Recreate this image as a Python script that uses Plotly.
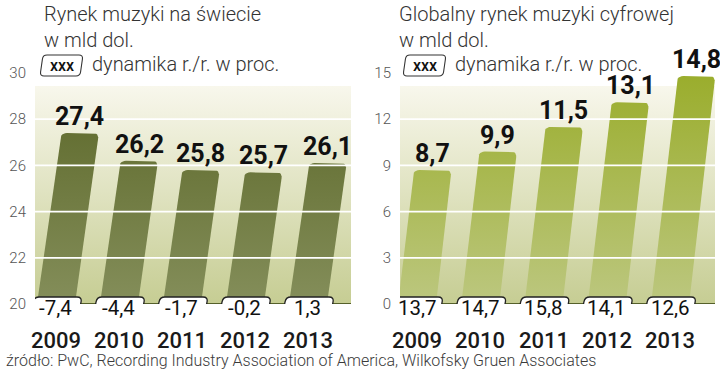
import plotly.graph_objects as go

# ---------------- data ----------------
years = ["2009", "2010", "2011", "2012", "2013"]
world_values = [27.4, 26.2, 25.8, 25.7, 26.1]          # mld dol.
world_growth = [-7.4, -4.4, -1.7, -0.2, 1.3]            # r./r. w proc.
digital_values = [8.7, 9.9, 11.5, 13.1, 14.8]           # mld dol.
digital_growth = [13.7, 14.7, 15.8, 14.1, 12.6]         # r./r. w proc.
world_ticks = [20, 22, 24, 26, 28, 30]
digital_ticks = [0, 3, 6, 9, 12, 15]

title_left = ["Rynek muzyki na świecie", "w mld dol."]
title_right = ["Globalny rynek muzyki cyfrowej", "w mld dol."]
legend_text = "dynamika r./r. w proc."
source_text = "źródło: PwC, Recording Industry Association of America, Wilkofsky Gruen Associates"

# ---------------- style / geometry ----------------
W, H = 720, 375
PY_TOP, PY_BOT = 73, 304
BG_TOP_PX = 86
BAR_W = 38
BAR_R = 6
LIGHT = "Roboto"
NARROW = "Liberation Sans Narrow, Arial Narrow, Roboto"
BG_COLS = ["#c6cd93", "#f8f7ec"]

panels = [
    dict(xa="x", ya="y", xpx=(35, 351), xr=(-0.333, 4.683), yr=(20, 30), slope=0.14,
         vals=world_values, growth=world_growth, ticks=world_ticks,
         bar_cols=["#848e5a", "#5a6627"], title=title_left, tx=42, bx=40),
    dict(xa="x2", ya="y2", xpx=(400, 715), xr=(-0.27, 4.71), yr=(0, 15), slope=0.115,
         vals=digital_values, growth=digital_growth, ticks=digital_ticks,
         bar_cols=["#bcc77f", "#9aad2c"], title=title_right, tx=397, bx=403),
]


def fmt(v):
    return f"{v:.1f}".replace(".", ",")


def rounded_path(pts, r, conv):
    """pts: polygon in px, corners rounded by r; conv maps px to output coords."""
    n = len(pts)
    segs = []
    for k in range(n):
        p = pts[k]
        a = pts[k - 1]
        b = pts[(k + 1) % n]

        def toward(q, d, p=p):
            dx, dy = q[0] - p[0], q[1] - p[1]
            L = (dx * dx + dy * dy) ** 0.5
            return (p[0] + dx / L * d, p[1] + dy / L * d)
        segs.append((toward(a, r), p, toward(b, r)))

    def s(q):
        x, y = conv(*q)
        return f"{x:.5f},{y:.5f}"
    d = "M" + s(segs[0][0])
    for (pi, c, po) in segs:
        d += " L" + s(pi) + " Q" + s(c) + " " + s(po)
    return d + " Z"


def qpts(pa, c, pb, n=6):
    out = []
    for k in range(n + 1):
        t = k / n
        out.append(((1 - t) ** 2 * pa[0] + 2 * (1 - t) * t * c[0] + t * t * pb[0],
                    (1 - t) ** 2 * pa[1] + 2 * (1 - t) * t * c[1] + t * t * pb[1]))
    return out


fig = go.Figure()
shapes = []
annotations = []
layout_axes = {}

for pi_, P in enumerate(panels):
    x0px, x1px = P["xpx"]
    r0, r1 = P["xr"]
    y0, y1 = P["yr"]
    ppx = (x1px - x0px) / (r1 - r0)
    ppy = (PY_BOT - PY_TOP) / (y1 - y0)
    base = y0
    bg_top = y1 - (BG_TOP_PX - PY_TOP) / ppy
    slope = P["slope"]

    # background gradient panel
    fig.add_trace(go.Scatter(
        x=[r0, r1, r1, r0], y=[base, base, bg_top, bg_top], fill="toself",
        mode="lines", line=dict(width=0), hoverinfo="skip", showlegend=False,
        fillgradient=dict(type="vertical", colorscale=[[0, BG_COLS[0]], [1, BG_COLS[1]]],
                          start=base, stop=bg_top),
        xaxis=P["xa"], yaxis=P["ya"]))

    # slanted bars with rounded tops
    for i, v in enumerate(P["vals"]):
        hpx = (v - base) * ppy
        sh = slope * hpx / ppx
        c0 = i
        hw = BAR_W / 2 / ppx
        rx, ry = BAR_R / ppx, BAR_R / ppy
        sx = slope * BAR_R / ppx
        bl = (c0 - hw, base)
        tl = (c0 - hw + sh, v)
        tr = (c0 + hw + sh, v)
        br = (c0 + hw, base)
        pts = [bl]
        pts += qpts((tl[0] - sx, v - ry), tl, (tl[0] + rx, v))
        pts += qpts((tr[0] - rx, v), tr, (tr[0] - sx, v - ry))
        pts += [br, bl]
        fig.add_trace(go.Scatter(
            x=[p[0] for p in pts], y=[p[1] for p in pts], fill="toself", mode="lines",
            line=dict(width=0), hoverinfo="skip", showlegend=False,
            fillgradient=dict(type="vertical",
                              colorscale=[[0, P["bar_cols"][0]], [1, P["bar_cols"][1]]],
                              start=base, stop=y1),
            xaxis=P["xa"], yaxis=P["ya"]))
        # value label
        annotations.append(dict(x=c0 + sh, y=v, xref=P["xa"], yref=P["ya"], text=fmt(v),
                                showarrow=False, xanchor="center", yanchor="bottom", yshift=0,
                                font=dict(family=NARROW, size=25, color="#111111", weight="bold")))

    # white gridlines (above bars)
    for t in P["ticks"]:
        if base < t < bg_top:
            shapes.append(dict(type="line", xref=P["xa"] + " domain", yref=P["ya"],
                               x0=0, x1=1, y0=t, y1=t, layer="above",
                               line=dict(color="white", width=1.8)))
    # baseline
    shapes.append(dict(type="line", xref=P["xa"] + " domain", yref=P["ya"],
                       x0=0, x1=1, y0=base, y1=base, layer="above",
                       line=dict(color="#55602a", width=2)))

    # growth boxes + year labels
    box_pts = [(-26, -14), (-22, 7), (26, 7), (22, -14)]
    box_path = rounded_path(box_pts, 5, lambda x, y: (x, y))
    for i, g in enumerate(P["growth"]):
        shapes.append(dict(type="path", xref=P["xa"], yref=P["ya"],
                           xsizemode="pixel", ysizemode="pixel", xanchor=i, yanchor=base,
                           path=box_path, fillcolor="white", layer="above",
                           line=dict(color="#222222", width=1.3)))
        annotations.append(dict(x=i, y=base, xref=P["xa"], yref=P["ya"], text=fmt(g),
                                showarrow=False, xanchor="center", yanchor="middle", yshift=-3.5,
                                font=dict(family=LIGHT, size=20.5, color="#111111")))
        annotations.append(dict(x=i, y=base, xref=P["xa"], yref=P["ya"], text=years[i],
                                showarrow=False, xanchor="center", yanchor="middle", yshift=-36,
                                font=dict(family=LIGHT, size=22, color="#1a1a1a", weight=500)))

    # titles
    for li, line in enumerate(P["title"]):
        annotations.append(dict(x=P["tx"] / W, y=1 - [14, 40][li] / H, xref="paper", yref="paper",
                                text=line, showarrow=False, xanchor="left", yanchor="middle",
                                font=dict(family=LIGHT, size=20, color="#333333", weight=300)))
    # legend box
    bx = P["bx"]
    leg_pts = [(bx, 76), (bx + 3, 55), (bx + 43, 55), (bx + 40, 76)]
    leg_path = rounded_path(leg_pts, 4, lambda x, y: (x / W, 1 - y / H))
    shapes.append(dict(type="path", xref="paper", yref="paper", path=leg_path,
                       fillcolor="white", line=dict(color="#333333", width=1.1)))
    annotations.append(dict(x=(bx + 21.5) / W, y=1 - 65.5 / H, xref="paper", yref="paper",
                            text="xxx", showarrow=False, xanchor="center", yanchor="middle",
                            font=dict(family=LIGHT, size=16, color="#111111", weight=500)))
    annotations.append(dict(x=(bx + 50) / W, y=1 - 64 / H, xref="paper", yref="paper",
                            text=legend_text, showarrow=False, xanchor="left", yanchor="middle",
                            font=dict(family=LIGHT, size=20, color="#333333", weight=300)))

    sfx = "" if pi_ == 0 else "2"
    layout_axes["xaxis" + sfx] = dict(domain=[x0px / W, x1px / W], range=list(P["xr"]),
                                      visible=False, fixedrange=True, anchor=P["ya"],
                                      automargin=False)
    layout_axes["yaxis" + sfx] = dict(domain=[1 - PY_BOT / H, 1 - PY_TOP / H], range=list(P["yr"]),
                                      tickvals=P["ticks"], showgrid=False, zeroline=False,
                                      showline=False, ticks="", anchor=P["xa"],
                                      ticklabelstandoff=8, fixedrange=True, automargin=False,
                                      tickfont=dict(family=LIGHT, size=15, color="#555555",
                                                    weight=300))

annotations.append(dict(x=4 / W, y=1 - 360 / H, xref="paper", yref="paper", text=source_text,
                        showarrow=False, xanchor="left", yanchor="middle",
                        font=dict(family=LIGHT, size=16, color="#3a3a3a", weight=300)))

fig.update_layout(width=W, height=H, margin=dict(l=0, r=0, t=0, b=0, autoexpand=False),
                  paper_bgcolor="white", plot_bgcolor="rgba(0,0,0,0)",
                  shapes=shapes, annotations=annotations, showlegend=False, **layout_axes)

fig.write_html("out.html", config={"displayModeBar": False},
               post_script="document.body.style.margin='0px'; document.body.style.overflow='hidden';")
